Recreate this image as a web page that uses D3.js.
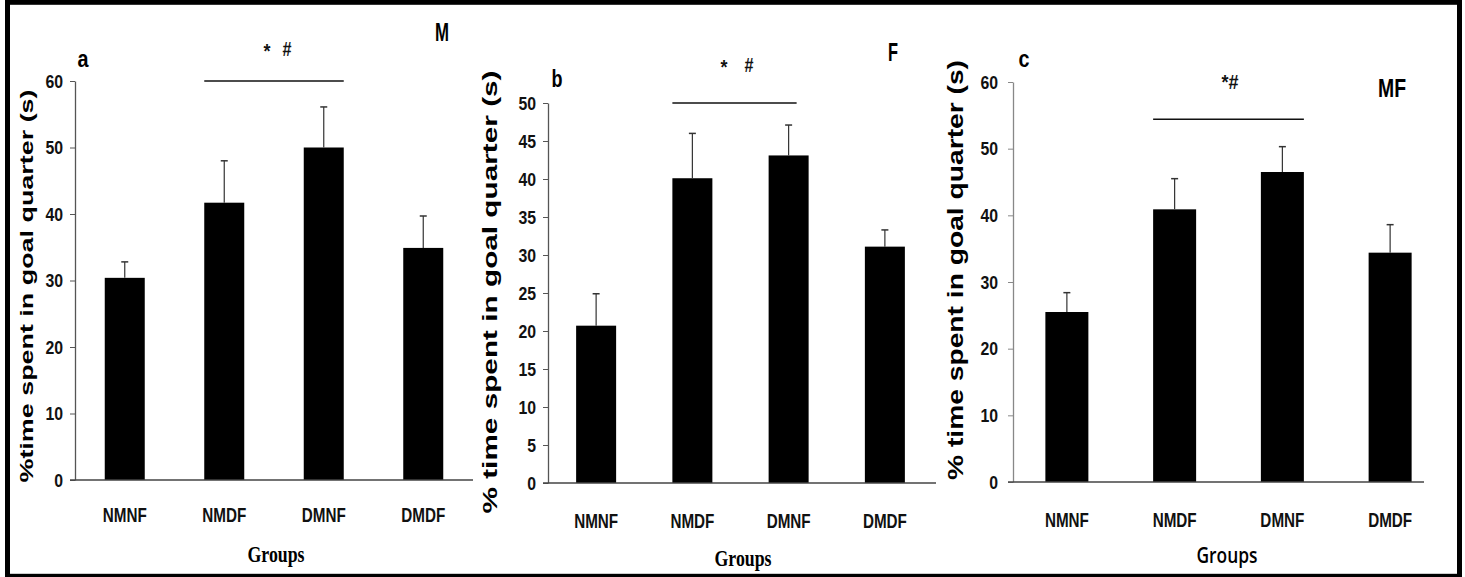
<!DOCTYPE html>
<html>
<head>
<meta charset="utf-8">
<script src="https://cdn.jsdelivr.net/npm/d3@7"></script>
<style>
  body { margin: 0; background: #fff; }
  svg { display: block; }
</style>
</head>
<body>
<div id="chart"></div>
<script>
// data
const groups = ["NMNF", "NMDF", "DMNF", "DMDF"];

const maleMeans = [30.4, 41.7, 50.0, 34.9];
const maleErr = [2.4, 6.3, 6.1, 4.8];
const maleTicks = [0, 10, 20, 30, 40, 50, 60];

const femaleMeans = [20.7, 40.1, 43.1, 31.1];
const femaleErr = [4.2, 5.9, 4.0, 2.2];
const femaleTicks = [0, 5, 10, 15, 20, 25, 30, 35, 40, 45, 50];

const mfMeans = [25.5, 40.9, 46.5, 34.4];
const mfErr = [2.9, 4.6, 3.8, 4.2];
const mfTicks = [0, 10, 20, 30, 40, 50, 60];

// no narrow face installed, so squeeze Liberation Sans with textLength
const sans = "'Liberation Sans',Arial,sans-serif";

const svg = d3.select("#chart").append("svg")
    .attr("width", 1465)
    .attr("height", 577);

// outer frame
svg.append("rect")
    .attr("x", 7.5).attr("y", 2.3)
    .attr("width", 1452).attr("height", 574)
    .attr("fill", "none")
    .attr("stroke", "#000")
    .attr("stroke-width", 5);

function narrowText(sel, size, len) {
    sel.attr("font-family", sans)
        .attr("font-weight", "bold")
        .attr("font-size", size)
        .attr("textLength", len)
        .attr("lengthAdjust", "spacingAndGlyphs");
}

function drawPanel(p) {
    const g = svg.append("g");

    const x = d3.scaleBand()
        .domain(groups)
        .range([p.left, p.right]);

    const y = d3.scaleLinear()
        .domain([0, p.yMax])
        .range([p.bottom, p.top]);

    const rows = groups.map((k, i) => ({key: k, mean: p.means[i], err: p.errs[i]}));

    // y axis
    const yAxis = g.append("g")
        .attr("transform", `translate(${p.left},0)`)
        .call(d3.axisLeft(y).tickValues(p.ticks).tickSize(5).tickSizeOuter(0).tickPadding(p.tickPad));
    yAxis.select(".domain").attr("stroke", p.axisColor).attr("stroke-width", 1.3);
    yAxis.selectAll(".tick line").attr("stroke", p.axisColor);
    yAxis.selectAll(".tick text")
        .call(narrowText, 19, d => String(d).length * 8.8)
        .attr("fill", "#111");

    // x axis labels
    const xAxis = g.append("g")
        .attr("transform", `translate(0,${p.bottom})`)
        .call(d3.axisBottom(x).tickSize(0).tickPadding(p.catPad));
    xAxis.select(".domain").remove();
    xAxis.selectAll(".tick text")
        .call(narrowText, 21, 44)
        .attr("fill", "#111");

    // bars
    g.selectAll("rect.bar")
        .data(rows)
        .enter()
        .append("rect")
        .attr("class", "bar")
        .attr("x", d => x(d.key) + (x.bandwidth() - p.barWidth) / 2)
        .attr("y", d => y(d.mean))
        .attr("width", p.barWidth)
        .attr("height", d => y(0) - y(d.mean))
        .attr("fill", "#000");

    // error bars (upper only)
    const cx = d => x(d.key) + x.bandwidth() / 2;
    g.selectAll("line.err")
        .data(rows)
        .enter()
        .append("line")
        .attr("class", "err")
        .attr("x1", cx).attr("x2", cx)
        .attr("y1", d => y(d.mean))
        .attr("y2", d => y(d.mean + d.err))
        .attr("stroke", "#333")
        .attr("stroke-width", 1.2);
    g.selectAll("line.cap")
        .data(rows)
        .enter()
        .append("line")
        .attr("class", "cap")
        .attr("x1", d => cx(d) - 3.5).attr("x2", d => cx(d) + 3.5)
        .attr("y1", d => y(d.mean + d.err))
        .attr("y2", d => y(d.mean + d.err))
        .attr("stroke", "#333")
        .attr("stroke-width", 1.5);

    // baseline
    g.append("line")
        .attr("x1", p.left - 5).attr("x2", p.axisEnd)
        .attr("y1", y(0)).attr("y2", y(0))
        .attr("stroke", "#444")
        .attr("stroke-width", 1.6);

    // significance bracket
    const sx1 = x(p.sig.from) + (x.bandwidth() - p.barWidth) / 2;
    const sx2 = x(p.sig.to) + (x.bandwidth() + p.barWidth) / 2 - p.sig.trim;
    g.append("line")
        .attr("x1", sx1).attr("x2", sx2)
        .attr("y1", y(p.sig.level)).attr("y2", y(p.sig.level))
        .attr("stroke", "#111")
        .attr("stroke-width", 1.5);
    p.marks.forEach(m => {
        g.append("text")
            .attr("x", m.x).attr("y", m.y)
            .attr("text-anchor", "middle")
            .call(narrowText, 20, m.w)
            .attr("fill", "#111")
            .text(m.t);
    });

    // panel letter and sex tag
    g.append("text")
        .attr("x", p.letter.x).attr("y", p.letter.y)
        .attr("text-anchor", "middle")
        .call(narrowText, 24, 11)
        .text(p.letter.t);
    g.append("text")
        .attr("x", p.tag.x).attr("y", p.tag.y)
        .attr("text-anchor", "middle")
        .call(narrowText, 26, p.tag.w)
        .text(p.tag.t);

    // y label
    g.append("text")
        .attr("transform", `translate(${p.ylab.x},${p.ylab.y}) rotate(-90)`)
        .attr("text-anchor", "middle")
        .attr("font-family", sans)
        .attr("font-weight", "bold")
        .attr("font-size", p.ylab.size)
        .attr("textLength", p.ylab.len)
        .attr("lengthAdjust", "spacingAndGlyphs")
        .text(p.ylab.t);

    // x label
    g.append("text")
        .attr("x", p.xlab.x).attr("y", p.xlab.y)
        .attr("text-anchor", "middle")
        .attr("font-family", p.xlab.font)
        .attr("font-weight", p.xlab.weight)
        .attr("font-size", p.xlab.size)
        .attr("textLength", p.xlab.len)
        .attr("lengthAdjust", "spacingAndGlyphs")
        .text("Groups");
}

drawPanel({
    means: maleMeans, errs: maleErr, ticks: maleTicks, yMax: 60,
    left: 75, right: 473, axisEnd: 473, top: 81, bottom: 480,
    barWidth: 40, tickPad: 7, catPad: 27, axisColor: "#555",
    sig: {from: "NMDF", to: "DMNF", level: 60, trim: 0},
    marks: [{t: "*", x: 267, y: 58, w: 7}, {t: "#", x: 287, y: 56, w: 9}],
    letter: {t: "a", x: 83, y: 67}, tag: {t: "M", x: 442, y: 41, w: 14},
    ylab: {t: "%time spent in goal quarter (s)", x: 33, y: 286, size: 19, len: 393},
    xlab: {x: 276, y: 562, font: "'Liberation Serif','Times New Roman',serif", weight: "bold", size: 24, len: 57}
});

drawPanel({
    means: femaleMeans, errs: femaleErr, ticks: femaleTicks, yMax: 50,
    left: 548, right: 933, axisEnd: 936, top: 103, bottom: 483,
    barWidth: 40, tickPad: 7, catPad: 30, axisColor: "#555",
    sig: {from: "NMDF", to: "DMNF", level: 50, trim: 12},
    marks: [{t: "*", x: 724, y: 74, w: 7}, {t: "#", x: 749, y: 72, w: 9}],
    letter: {t: "b", x: 557, y: 87}, tag: {t: "F", x: 893, y: 61, w: 10},
    ylab: {t: "% time spent in goal quarter (s)", x: 497, y: 292, size: 20, len: 443},
    xlab: {x: 743, y: 566, font: "'Liberation Serif','Times New Roman',serif", weight: "bold", size: 24, len: 57}
});

drawPanel({
    means: mfMeans, errs: mfErr, ticks: mfTicks, yMax: 60,
    left: 1013, right: 1444, axisEnd: 1424, top: 82, bottom: 482,
    barWidth: 43, tickPad: 10, catPad: 30, axisColor: "#888",
    sig: {from: "NMDF", to: "DMNF", level: 54.4, trim: 0},
    marks: [{t: "*#", x: 1230, y: 89, w: 17}],
    letter: {t: "c", x: 1024, y: 67}, tag: {t: "MF", x: 1392, y: 97, w: 28},
    ylab: {t: "% time spent in goal quarter (s)", x: 963, y: 270, size: 22, len: 420},
    xlab: {x: 1227, y: 563, font: "'Open Sans',sans-serif", weight: 600, size: 21, len: 61}
});
</script>
</body>
</html>
